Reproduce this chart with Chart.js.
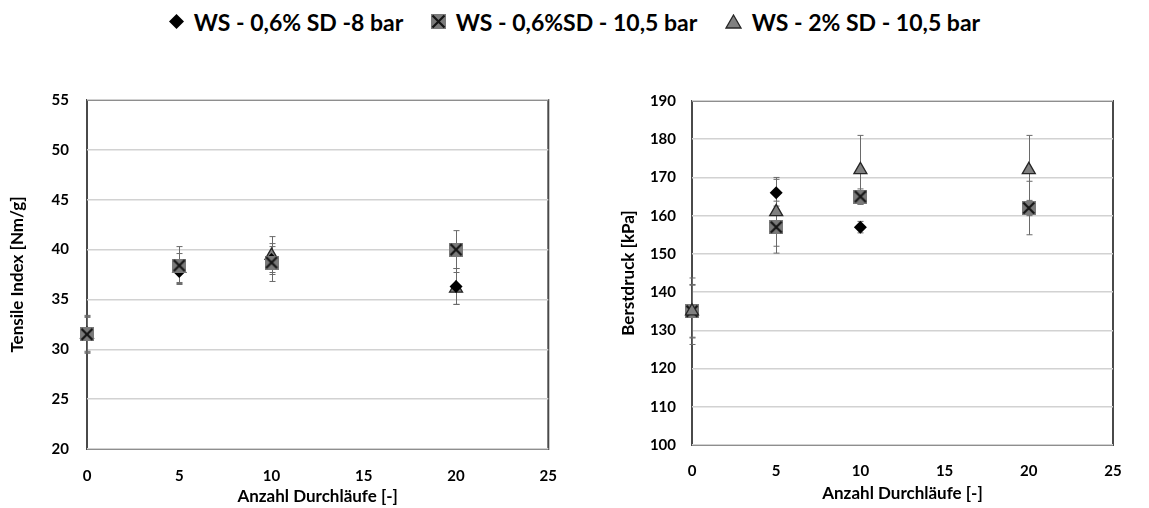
<!DOCTYPE html>
<html lang="de">
<head>
<meta charset="UTF-8">
<title>Tensile Index und Berstdruck</title>
<script src="https://cdn.jsdelivr.net/npm/chart.js"></script>
<style>
  body { margin: 0; background: #fff; width: 1149px; height: 508px; overflow: hidden; position: relative; font-family: Lato, 'Open Sans', sans-serif; }
  .legend { position: absolute; top: 6px; left: 0; width: 1149px; text-align: center; font-weight: 700; font-size: 23px; color: #000; white-space: nowrap; }
  .legend .item { display: inline-flex; align-items: center; margin: 0 11px; }
  .legend svg, .legend canvas { margin-right: 10px; }
  .box { position: absolute; top: 0; }
</style>
</head>
<body>
  <div class="legend">
    <span class="item"><svg width="15" height="15"><polygon points="7.5,0 15,7.5 7.5,15 0,7.5" fill="#000"/></svg>WS - 0,6% SD -8 bar</span>
    <span class="item"><canvas id="legSquare" width="15" height="15"></canvas>WS - 0,6%SD - 10,5 bar</span>
    <span class="item"><svg width="17" height="15"><polygon points="8.5,1 16,14 1,14" fill="#808080" stroke="#262626" stroke-width="1.3"/></svg>WS - 2% SD - 10,5 bar</span>
  </div>
  <div class="box" style="left:0"><canvas id="tensile" width="575" height="508"></canvas></div>
  <div class="box" style="left:585px"><canvas id="burst" width="564" height="508"></canvas></div>
<script>
// Durchläufe
const runs = [0, 5, 10, 20];
const seriesNames = ['WS - 0,6% SD -8 bar', 'WS - 0,6%SD - 10,5 bar', 'WS - 2% SD - 10,5 bar'];

// Tensile Index [Nm/g]
const tensileSD8 = [31.5, 37.8, 39.0, 36.3];
const tensileSD8Err = [1.7, 1.1, 1.3, 1.8];
const tensileSD105 = [31.5, 38.4, 38.7, 40.0];
const tensileSD105Err = [1.9, 1.9, 1.9, 1.9];
const tensile2SD105 = [31.5, 38.1, 39.4, 36.1];
const tensile2SD105Err = [1.8, 1.5, 1.9, 1.6];

// Berstdruck [kPa]
const burstSD8 = [135, 166, 157, 162];
const burstSD8Err = [7, 3.5, 1.5, 2];
const burstSD105 = [135, 157, 165, 162];
const burstSD105Err = [6.8, 6.8, 2, 7];
const burst2SD105 = [135, 161, 172, 172];
const burst2SD105Err = [8.7, 9, 9, 9];

const xTicks = [0, 5, 10, 15, 20, 25];

const FONT = 'Lato, "Open Sans", sans-serif';

// grey square with a black cross, used as marker and in the legend
function squareX(c) {
  const g = c.getContext('2d');
  const s = c.width;
  g.fillStyle = '#7a7a7a';
  g.fillRect(0, 0, s, s);
  g.strokeStyle = '#151515';
  g.lineWidth = 2.2;
  g.beginPath();
  g.moveTo(1.5, 1.5); g.lineTo(s - 1.5, s - 1.5);
  g.moveTo(s - 1.5, 1.5); g.lineTo(1.5, s - 1.5);
  g.stroke();
  return c;
}
const squareMarker = squareX(Object.assign(document.createElement('canvas'), { width: 14, height: 14 }));
squareX(document.getElementById('legSquare'));

function pts(ys, errs) {
  return runs.map((x, i) => ({ x: x, y: ys[i], err: errs[i] }));
}

// error bars + plot frame
const errorBars = {
  id: 'errorBars',
  beforeDatasetsDraw(chart) {
    const ctx = chart.ctx;
    const xs = chart.scales.x, ys = chart.scales.y;
    ctx.save();
    ctx.strokeStyle = '#6a6a6a';
    ctx.lineWidth = 1;
    chart.data.datasets.forEach(ds => {
      ds.data.forEach(p => {
        if (p.y == null) return;
        const px = Math.round(xs.getPixelForValue(p.x)) + 0.5;
        const top = ys.getPixelForValue(p.y + p.err);
        const bot = ys.getPixelForValue(p.y - p.err);
        ctx.beginPath();
        ctx.moveTo(px, top); ctx.lineTo(px, bot);
        ctx.moveTo(px - 3, top); ctx.lineTo(px + 3, top);
        ctx.moveTo(px - 3, bot); ctx.lineTo(px + 3, bot);
        ctx.stroke();
      });
    });
    ctx.restore();
  },
  afterDraw(chart) {
    const a = chart.chartArea;
    const ctx = chart.ctx;
    ctx.save();
    ctx.globalCompositeOperation = 'destination-over';
    ctx.strokeStyle = '#4a4a4a';
    ctx.lineWidth = 2;
    ctx.strokeRect(a.left, a.top, a.right - a.left, a.bottom - a.top);
    ctx.restore();
  }
};

function makeChart(id, opts) {
  return new Chart(document.getElementById(id), {
    type: 'scatter',
    data: {
      datasets: [
        { label: seriesNames[0], data: pts(opts.d[0], opts.e[0]), pointStyle: 'rectRot', radius: 6.5, hoverRadius: 6.5,
          backgroundColor: '#000', borderColor: '#000', borderWidth: 0, order: opts.order[0], clip: false },
        { label: seriesNames[1], data: pts(opts.d[1], opts.e[1]), pointStyle: squareMarker,
          backgroundColor: '#7a7a7a', order: opts.order[1], clip: false },
        { label: seriesNames[2], data: pts(opts.d[2], opts.e[2]), pointStyle: 'triangle', radius: 7.5, hoverRadius: 7.5,
          backgroundColor: '#808080', borderColor: '#262626', borderWidth: 1.3, order: opts.order[2], clip: false }
      ]
    },
    options: {
      responsive: false,
      animation: false,
      layout: { padding: { top: opts.top, right: opts.right, bottom: 0, left: 0 } },
      plugins: { legend: { display: false }, tooltip: { enabled: false } },
      scales: {
        x: {
          type: 'linear', min: 0, max: 25,
          afterBuildTicks: s => { s.ticks = xTicks.map(v => ({ value: v })); },
          afterFit: s => { s.height = opts.xh; },
          grid: { display: false, drawTicks: false },
          border: { display: false },
          ticks: { color: '#000', padding: opts.xpad, font: { family: FONT, size: 15, weight: 'bold' } },
          title: { display: true, text: 'Anzahl Durchläufe [-]', color: '#000',
                   padding: { top: 0, bottom: opts.xtp }, font: { family: FONT, size: 17, weight: 'bold' } }
        },
        y: {
          min: opts.ymin, max: opts.ymax,
          ticks: { stepSize: opts.step, color: '#000', padding: opts.ypad, font: { family: FONT, size: 15, weight: 'bold' } },
          afterFit: s => { s.width = opts.yw; },
          grid: { color: '#d2d2d2', lineWidth: 1.5, drawTicks: false },
          border: { display: false },
          title: { display: true, text: opts.ytitle, color: '#000',
                   padding: { top: opts.ytp, bottom: 0 }, font: { family: FONT, size: 17, weight: 'bold' } }
        }
      }
    },
    plugins: [errorBars]
  });
}

makeChart('tensile', {
  d: [tensileSD8, tensileSD105, tensile2SD105],
  e: [tensileSD8Err, tensileSD105Err, tensile2SD105Err],
  order: [1, 0, 2],
  ymin: 20, ymax: 55, step: 5,
  ytitle: 'Tensile Index [Nm/g]',
  top: 100, right: 25, xh: 59, yw: 87,
  xpad: 18, xtp: 1, ypad: 18, ytp: 7
});

makeChart('burst', {
  d: [burstSD8, burstSD105, burst2SD105],
  e: [burstSD8Err, burstSD105Err, burst2SD105Err],
  order: [2, 1, 0],
  ymin: 100, ymax: 190, step: 10,
  ytitle: 'Berstdruck [kPa]',
  top: 101, right: 36, xh: 63, yw: 107,
  xpad: 17, xtp: 4, ypad: 16, ytp: 33
});
</script>
</body>
</html>
